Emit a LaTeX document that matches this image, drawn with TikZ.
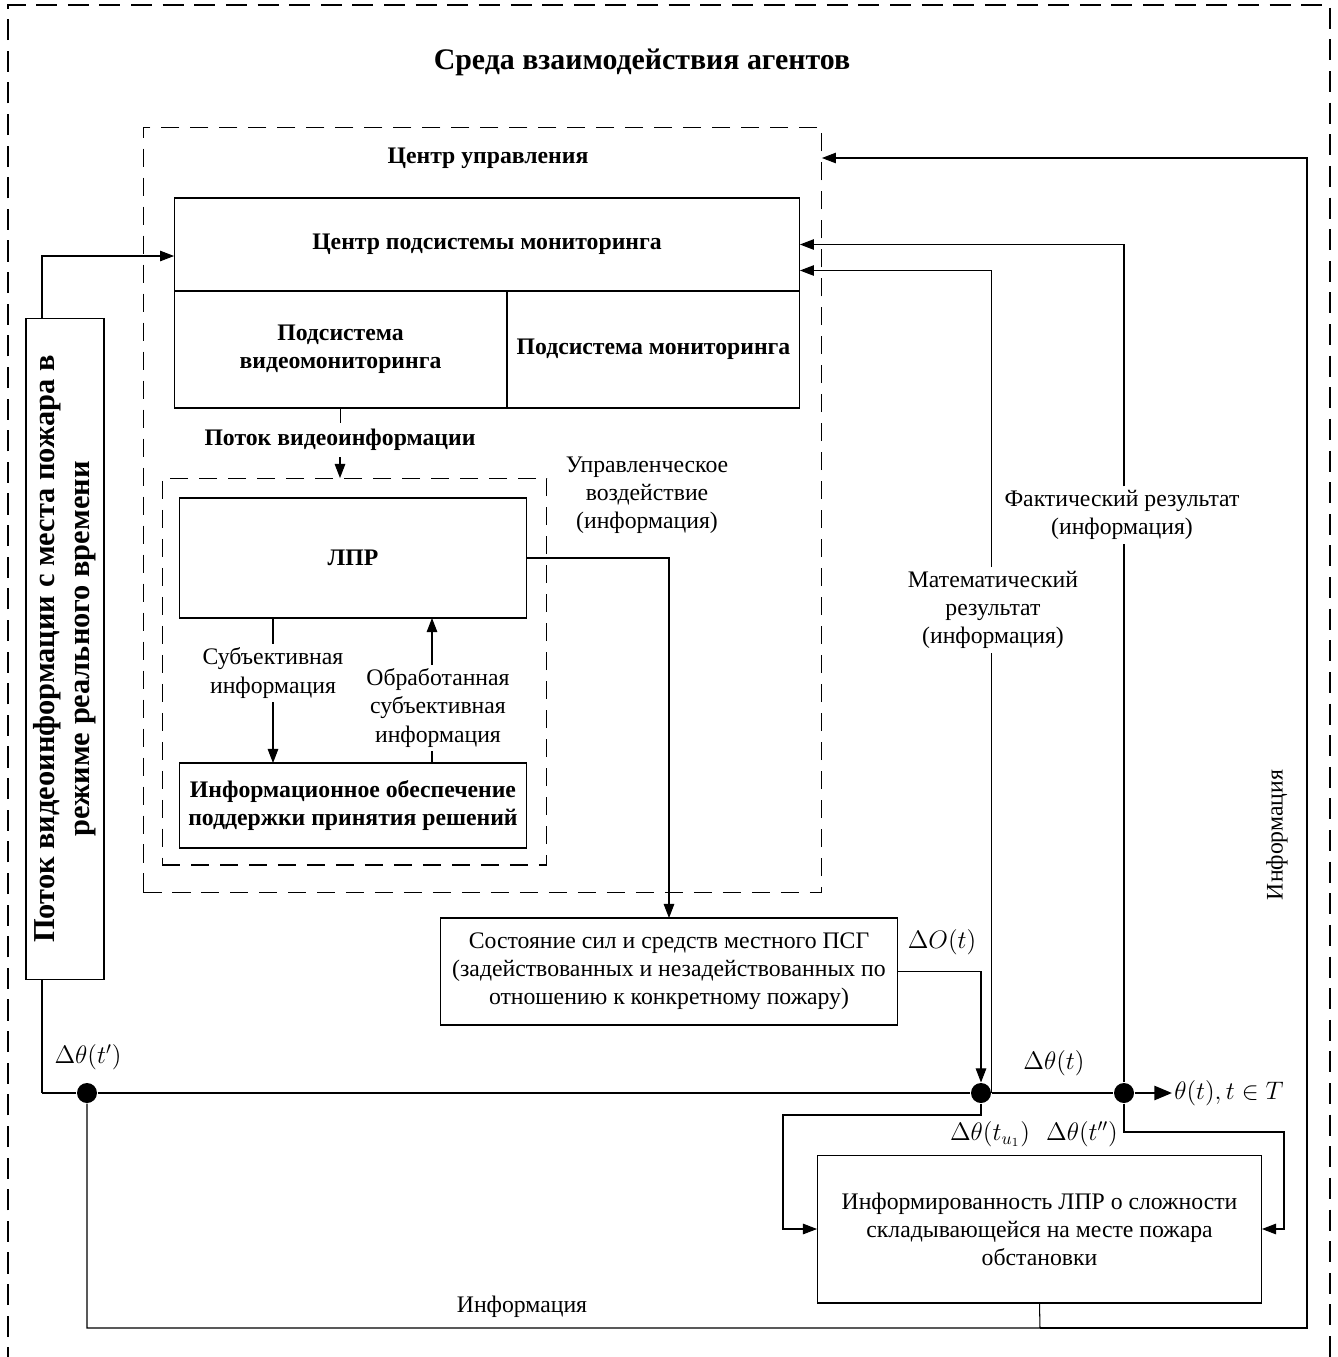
\documentclass[tikz,border=0pt]{standalone}
\usepackage{fontspec}
\setmainfont{Liberation Serif}
\usepackage{graphicx}
\usetikzlibrary{arrows.meta,positioning,calc}

\newcommand{\txtnorm}{\fontsize{13.5}{16}\selectfont}
\newcommand{\txtbold}{\fontsize{13.5}{16}\selectfont\bfseries}
\newcommand{\txttitle}{\fontsize{17}{20}\selectfont\bfseries}
\newcommand{\txtside}{\fontsize{17.3}{23}\selectfont\bfseries}
\newcommand{\txtmath}{\fontsize{14}{16}\selectfont}

\begin{document}
\begin{tikzpicture}[
  x=0.02cm, y=-0.02cm,
  >={Triangle[length=8pt,width=6pt]},
  line width=0.6pt,
  box/.style={rectangle, draw, inner sep=0pt, outer sep=0pt, align=center, font=\txtnorm},
  boldbox/.style={box, font=\txtbold},
  frame/.style={rectangle, draw, dash pattern=on 10.5pt off 6pt, inner sep=0pt, outer sep=0pt},
  lbl/.style={align=center, font=\txtnorm, inner sep=2pt},
  mathlbl/.style={font=\txtmath, inner sep=1pt},
  dot/.style={circle, fill, inner sep=0pt, minimum size=0.4cm},
  mainline/.style={line width=1.3pt},
]
  \useasboundingbox (0,0) rectangle (1338,1357);
  % outer frame, its lower edge lies below the page
  \draw[dash pattern=on 12pt off 6pt] (8,1400) -- (8,5) -- (1330,5) -- (1330,1400);
  \node[font=\txttitle] (env) at (642,62) {Среда взаимодействия агентов};

  % control centre
  \node[frame, minimum width=13.58cm, minimum height=15.32cm] (cc) at (482.5,510) {};
  \node[font=\txtbold] (cclbl) at (488,158) {Центр управления};
  \node[boldbox, minimum width=12.52cm, minimum height=1.86cm] (mc) at (487,244.5) {Центр подсистемы мониторинга};
  \node[boldbox, anchor=north west, minimum width=6.66cm, minimum height=2.34cm] (vm) at (mc.south west) {Подсистема\\видеомониторинга};
  \node[boldbox, anchor=north west, minimum width=5.86cm, minimum height=2.34cm] (sm) at (vm.north east) {Подсистема мониторинга};
  \node[font=\txtbold] (vflow) at (340,440) {Поток видеоинформации};

  % decision maker
  \node[frame, minimum width=7.7cm, minimum height=7.74cm] (dm) at (354.5,671.5) {};
  \node[boldbox, minimum width=6.96cm, minimum height=2.4cm] (lpr) at (353,558) {ЛПР};
  \node[boldbox, minimum width=6.96cm, minimum height=1.7cm] (ios) at (353,805.5) {Информационное обеспечение\\поддержки принятия решений};
  \node[lbl] (subj) at (273,673) {Субъективная\\информация};
  \node[lbl] (proc) at (438,708) {Обработанная\\субъективная\\информация};
  \coordinate (px) at (432,708);
  \node[lbl] (ctl) at (647,495) {Управленческое\\воздействие\\(информация)};

  \node[box, minimum width=9.16cm, minimum height=2.14cm] (psg) at (669,971.5) {Состояние сил и средств местного ПСГ\\(задействованных и незадействованных по\\отношению к конкретному пожару)};
  \node[box, font=\txtside, minimum width=1.56cm, minimum height=13.24cm] (stream) at (65,649)
    {\rotatebox{90}{\renewcommand{\arraystretch}{0.85}\begin{tabular}{@{}c@{}}Поток видеоинформации с места пожара в\\режиме реального времени\end{tabular}}};
  \node[box, minimum width=8.9cm, minimum height=2.96cm] (aware) at (1039.5,1229) {Информированность ЛПР о сложности\\складывающейся на месте пожара\\обстановки};

  % main line
  \coordinate (start) at (42,1093);
  \node[dot] (d1) at (87,1093) {};
  \node[dot] (d2) at (981,1093) {};
  \node[dot] (d3) at (1124,1093) {};
  \node[mathlbl, anchor=west] (theta) at (1172,1093) {$\theta(t), t\in T$};
  \draw[mainline] (start) -- (d1) -- (d2) -- (d3);
  \draw[mainline, -{Triangle[length=10pt,width=8pt]}] (d3) -- (theta);

  \node[mathlbl] (dt1) at (88,1057) {$\Delta\theta(t')$};
  \node[mathlbl] (dt) at (1054,1063) {$\Delta\theta(t)$};
  \node[mathlbl] (dtu) at (990,1134) {$\Delta\theta(t_{u_1})$};
  \node[mathlbl] (dt2) at (1082,1134) {$\Delta\theta(t'')$};
  \node[mathlbl] (dO) at (942,942) {$\Delta O(t)$};

  % left box
  \coordinate (tl) at (42,256);
  \draw (start) -- (start |- stream.south);
  \draw[->] (start |- stream.north) -- (tl) -- (tl -| mc.west);

  % inside the control centre
  \draw (vm.south) -- (vm.south |- vflow.north);
  \draw[->] (vflow.south) -- (vflow.south |- dm.north);
  \draw (subj |- lpr.south) -- (subj);
  \draw[->] (subj) -- (subj |- ios.north);
  \draw (px |- ios.north) -- (px |- proc.south);
  \draw[->] (px |- proc.north) -- (px |- lpr.south);
  \draw[->] (lpr.east) -| (psg.north);
  \draw[->] (psg.east) -| (d2.north);

  % results
  \coordinate (mr) at ($(mc.east)+(0,26)$);
  \node[lbl] (mres) at (993,610) {Математический\\результат\\(информация)};
  \node[lbl] (fres) at (1122,515) {Фактический результат\\(информация)};
  \draw (d2.east) -- (d2.east |- mres.south);
  \draw[->] (d2.east |- mres.north) |- (mr);
  \draw (d3) -- (d3 |- fres.south);
  \draw[->] (d3 |- fres.north) |- (mc.east);

  % awareness
  \coordinate (a1) at (783,1115);
  \coordinate (a2) at (1284,1132);
  \draw[->] (d2) |- (a1) |- (aware.west);
  \draw[->] (d3) |- (a2) |- (aware.east);

  % information loop
  \coordinate (bl) at (87,1328);
  \coordinate (bm) at (1040,1328);
  \coordinate (br) at (1307,1328);
  \coordinate (tr) at (1307,158);
  \draw (d1) -- (bl) -- (bm) -- (aware.south);
  \draw[->] (bm) -- (br) -- (tr) -- (tr -| cc.east);
  \node[lbl] (info1) at (522,1307) {Информация};
  \node[lbl, rotate=90] (info2) at (1277,835) {Информация};
\end{tikzpicture}
\end{document}
